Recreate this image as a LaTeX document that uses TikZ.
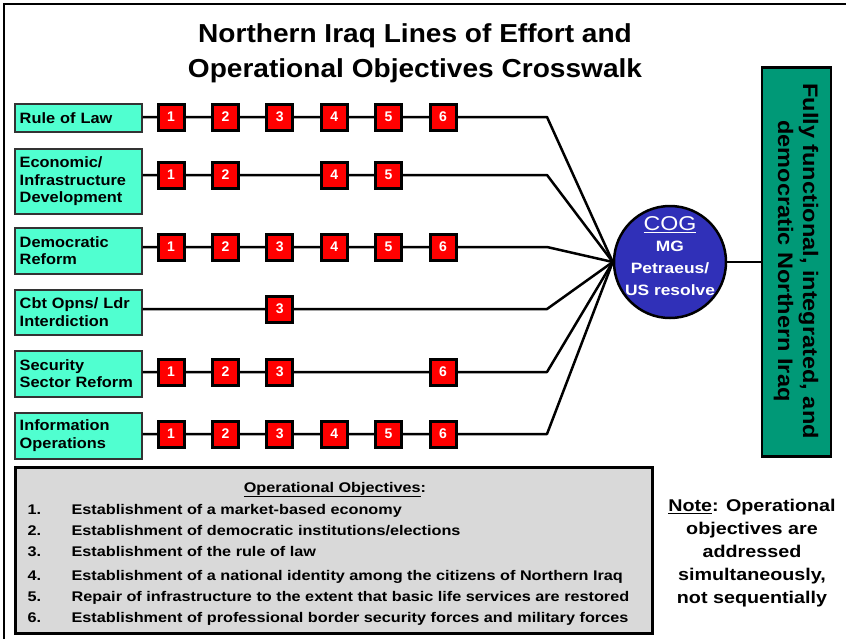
\documentclass[tikz,border=0pt]{standalone}
\usepackage{fontspec}
\setmainfont{Liberation Sans}
\newfontfamily\titlefont[FakeStretch=1.08]{Liberation Sans}
\newfontfamily\widefont[FakeStretch=1.16]{Liberation Sans}
\newfontfamily\boxfont[FakeStretch=1.09]{Liberation Sans}
\newfontfamily\goalfont[FakeStretch=1.12]{Liberation Sans}
\definecolor{lobcyan}{RGB}{80,255,208}
\definecolor{objred}{RGB}{255,0,0}
\definecolor{cogblue}{RGB}{48,48,184}
\definecolor{goalgreen}{RGB}{0,153,119}
\definecolor{legendgray}{RGB}{217,217,217}
\newcommand{\cogsmall}{\widefont\bfseries\fontsize{15}{21}\selectfont}
\begin{document}
\begin{tikzpicture}[x=1pt,y=-1pt,
  lob/.style={draw=black!80, line width=1.5pt, fill=lobcyan, anchor=north west,
    minimum width=127, text width=117, inner xsep=5pt, inner ysep=3pt, align=left,
    font=\boxfont\bfseries\fontsize{15}{17.5}\selectfont},
  objsq/.style={draw=black, line width=3pt, fill=objred, minimum size=26, inner sep=0pt,
    text=white, font=\bfseries\fontsize{14}{14}\selectfont},
  lineeff/.style={line width=2.5pt, black},
  itemnum/.style={anchor=base west, font=\widefont\bfseries\fontsize{14}{14}\selectfont},
  itemtxt/.style={anchor=base west, font=\widefont\bfseries\fontsize{14}{14}\selectfont}]
\useasboundingbox (0,0) rectangle (846,638);
% frame
\draw[line width=2pt] (4,660) -- (4,4) -- (870,4);
% title
\node[align=center, font=\titlefont\bfseries\fontsize{26}{35}\selectfont] (title) at (415,53)
  {Northern Iraq Lines of Effort and\\Operational Objectives Crosswalk};
% COG
\node[circle, draw=black, line width=2.5pt, fill=cogblue, minimum size=112, inner sep=0pt] (cog) at (670,262) {};
\node[text=white, align=center, inner sep=0pt, font=\widefont\fontsize{20}{22}\selectfont] (cogtext) at (670,256)
  {\underline{COG}\\[-1pt]
   \cogsmall MG\\\cogsmall Petraeus/\\\cogsmall US resolve};
% goal box
\node[draw=black, line width=2.5pt, fill=goalgreen, minimum width=69, minimum height=389, inner sep=0pt] (goal) at (796.5,262) {};
\node[rotate=-90, align=center, font=\goalfont\bfseries\fontsize{21}{25}\selectfont] (goaltext) at (796,261)
  {Fully functional, integrated, and\\democratic Northern Iraq};
\draw[lineeff] (cog) -- (goal);
% lines of effort boxes
\node[lob, minimum height=28] (rol) at (14,103) {Rule of Law};
\node[lob, minimum height=65] (eco) at (14,148) {Economic/\\Infrastructure\\Development};
\node[lob, minimum height=46] (dem) at (14,227) {Democratic\\Reform};
\node[lob, minimum height=45] (cbt) at (14,289) {Cbt Opns/ Ldr\\Interdiction};
\node[lob, minimum height=46] (sec) at (14,350) {Security\\Sector Reform};
\node[lob, minimum height=46] (inf) at (14,412) {Information\\Operations};
% bend points
\coordinate (b1) at (547,117);
\coordinate (b2) at (547,175);
\coordinate (b3) at (547,247);
\coordinate (b4) at (547,309);
\coordinate (b5) at (547,372);
\coordinate (b6) at (547,434);
\foreach \b/\n in {b1/rol,b2/eco,b3/dem,b4/cbt,b5/sec,b6/inf}
  \draw[lineeff, line join=round] (\n.east |- \b) -- (\b) -- (cog.west);
% objective squares
\foreach \r/\y/\list in {1/117/{1,2,3,4,5,6}, 2/175/{1,2,4,5}, 3/247/{1,2,3,4,5,6},
    4/309/{3}, 5/372/{1,2,3,6}, 6/434/{1,2,3,4,5,6}}{
  \foreach \k in \list {
    \pgfmathsetmacro{\xx}{171+54.4*(\k-1)}
    \node[objsq] (sq\r-\k) at (\xx,\y) {\k};
  }
}
% legend
\node[draw=black, line width=3pt, fill=legendgray, anchor=north west, minimum width=637, minimum height=166, inner sep=0pt] (legend) at (14,466) {};
\node[anchor=base, font=\widefont\bfseries\fontsize{14}{14}\selectfont] (legtitle) at (335,492) {\underline{Operational Objectives}:};
\foreach \i/\y/\t in {1/514/{Establishment of a market-based economy},
  2/535/{Establishment of democratic institutions/elections},
  3/556/{Establishment of the rule of law},
  4/580/{Establishment of a national identity among the citizens of Northern Iraq},
  5/601/{Repair of infrastructure to the extent that basic life services are restored},
  6/622/{Establishment of professional border security forces and military forces}}{
  \node[itemnum] (num\i) at (24,\y) {\i.};
  \node[itemtxt] (txt\i) at (68,\y) {\t};
}
% note
\node[align=center, font=\widefont\bfseries\fontsize{17}{23}\selectfont] (note) at (752,553)
  {\underline{Note}: Operational\\objectives are\\addressed\\simultaneously,\\not sequentially};
\end{tikzpicture}
\end{document}
